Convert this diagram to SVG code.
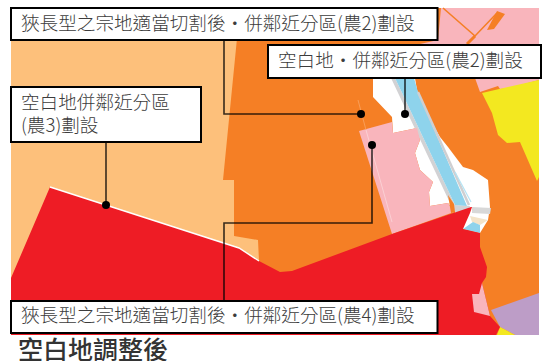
<svg xmlns="http://www.w3.org/2000/svg" width="543" height="361" viewBox="0 0 543 361">
<style>
text{font-family:"Noto Sans CJK TC","Noto Sans",sans-serif;font-size:18.6px;font-weight:300;fill:#3c3c3c}
.box{fill:#fff;stroke:#000;stroke-width:2}
.ln{fill:none;stroke:#000;stroke-opacity:.78;stroke-width:1.6}
.dot{fill:#000}
</style>
<rect width="543" height="361" fill="#fff"/>
<g id="map">
<rect x="11" y="8" width="528" height="327" fill="#FDC07B"/>
<polygon points="240,8 539,8 539,335 259,335 259,261 258,240 234,236 234,180 223,180" fill="#F57F25"/>
<polygon points="441,8 539,8 539,80 510,88 500,89 498,86 480,92 475,78 470,44 420,44 438,40" fill="#F9B5BC"/>
<path d="M443,8 475,36 497,13" fill="none" stroke="#F57F25" stroke-width="1.6"/>
<path d="M475,36 467,44" fill="none" stroke="#F57F25" stroke-width="3"/>
<polygon points="497,11 505,14 494,29 487,30" fill="#F57F25"/>
<polygon points="482,93 539,80 539,177 537,181 520,142 507,143 498,135 492,113" fill="#F3E820"/>
<polygon points="373,78 415,78 417,90 432,123 440,137 448,147 463,167 473,170 488,180 490,207 488,220 480,233 463,229 455,212 448,203 430,206 429,192 433,182 420,170 415,153 420,140 417,128 393,133 392,117 373,97" fill="#fff"/>
<polygon points="391,78 395,78 455,205 470,206 468,212 455,212 451,205" fill="#D2D2D4"/>
<polygon points="395,78 414,78 418,92 467,206 455,205" fill="#8ED3EC"/>
<path d="M418,92 469,205" fill="none" stroke="#CFCFD1" stroke-width="2.500"/>
<path d="M455,172 471,202" fill="none" stroke="#B5E3F3" stroke-width="1.200"/>
<polygon points="472,207 491,208 490,214 472,213" fill="#D8D8D8"/>
<polygon points="470,216 488,220 480,225 472,222" fill="#F3E3C8"/>
<polygon points="473,222 480,225 480,233 463,229" fill="#8ED3EC"/>
<polygon points="359,131 392,122 393,133 417,128 420,140 415,153 420,170 433,182 429,192 430,206 448,203 454,212 392,234" fill="#F9B5BC"/>
<polygon points="448,195 454,204 455,212 451,213" fill="#F57F25"/>
<path d="M366,130 392,222" fill="none" stroke="#FBD0D4" stroke-width="1"/>
<path d="M358,100 366,130" fill="none" stroke="#F9A565" stroke-width=".8"/>
<polygon points="491,310 539,293 539,335 515,335 500,327" fill="#BD9DC7"/>
<polygon points="497,335 500,327 515,335" fill="#F3E820"/>
<polygon points="11,278 50,187 239,248 259,261 280,272 292,271 392,234 471,207 472,207 470,213 463,229 480,233 480,247 487,267 486,277 482,283 490,316 500,327 496,335 11,335" fill="#EE1C25"/>
<polygon points="482,283 490,316 474,312 472,294 479,294" fill="#F9B5BC"/>
<path d="M50,187 239,248 259,261" fill="none" stroke="#fff" stroke-width="1.400"/>
</g>
<g id="connectors">
<path class="ln" d="M224,40V114H361"/>
<path class="ln" d="M405,78V114"/>
<path class="ln" d="M106,142V205"/>
<path class="ln" d="M224,300V223H372V145"/>
<circle class="dot" cx="361" cy="114" r="4"/>
<circle class="dot" cx="405" cy="114" r="4"/>
<circle class="dot" cx="106" cy="205" r="4"/>
<circle class="dot" cx="372" cy="145" r="4"/>
</g>
<g id="node-top">
<rect class="box" x="11" y="8" width="426.500" height="32"/>
<text x="21" y="30">狹長型之宗地適當切割後·併鄰近分區(農2)劃設</text>
</g>
<g id="node-right">
<rect class="box" x="268" y="45" width="273" height="33"/>
<text x="278" y="67">空白地·併鄰近分區(農2)劃設</text>
</g>
<g id="node-left">
<rect class="box" x="11" y="87" width="190" height="55"/>
<text x="21" y="109">空白地併鄰近分區</text>
<text x="21" y="132">(農3)劃設</text>
</g>
<g id="node-bottom">
<rect class="box" x="11" y="301" width="426.500" height="32"/>
<text x="21" y="322">狹長型之宗地適當切割後·併鄰近分區(農4)劃設</text>
</g>
<text id="title" x="18" y="359" style="font-size:25px;font-weight:500;fill:#333">空白地調整後</text>
</svg>
